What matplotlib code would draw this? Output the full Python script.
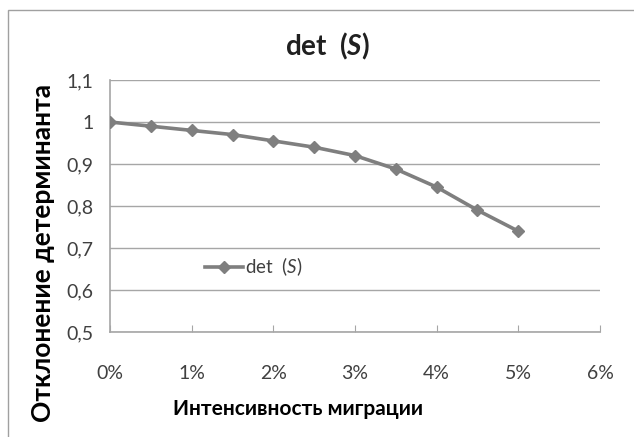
import numpy as np
import matplotlib.pyplot as plt
from matplotlib.patches import Rectangle
from matplotlib.ticker import FuncFormatter

# данные
migracija = [0, 0.5, 1, 1.5, 2, 2.5, 3, 3.5, 4, 4.5, 5]
det_s = [1.0, 0.99, 0.98, 0.97, 0.955, 0.94, 0.92, 0.888, 0.845, 0.79, 0.74]
y_ticks = [0.5, 0.6, 0.7, 0.8, 0.9, 1.0, 1.1]
x_ticks = [0, 1, 2, 3, 4, 5, 6]

plt.rcParams['font.family'] = ['Lato', 'DejaVu Sans']
plt.rcParams['mathtext.fontset'] = 'custom'
plt.rcParams['mathtext.rm'] = 'Lato'
plt.rcParams['mathtext.it'] = 'Lato:italic'
plt.rcParams['mathtext.bfit'] = 'Lato:italic:bold'

fig = plt.figure(figsize=(6.34, 4.37), dpi=100)
W, H = 634, 437
ax = fig.add_axes([110 / W, 1 - 332 / H, 490 / W, 252 / H])

# рамка диаграммы
fig.patches.append(Rectangle((8 / W, -0.05), 1.1, 1 - 10 / H + 0.05, transform=fig.transFigure,
                             fill=False, edgecolor='#a0a0a0', linewidth=1))

grey = '#7f7f7f'
ax.plot(migracija, det_s, color=grey, linewidth=2.6, marker='D', markersize=6.5,
        label='det  ($\\mathit{S}$)', zorder=3)

ax.set_xlim(0, 6)
ax.set_ylim(0.5, 1.1)
ax.set_xticks(x_ticks)
ax.set_yticks(y_ticks)
ax.xaxis.set_major_formatter(FuncFormatter(lambda v, p: f'{int(v)}%'))
ax.yaxis.set_major_formatter(FuncFormatter(lambda v, p: ('%g' % round(v, 1)).replace('.', ',')))
ax.grid(axis='y', color='#a6a6a6', linewidth=1)
ax.set_axisbelow(True)

for s in ['top', 'right']:
    ax.spines[s].set_visible(False)
for s in ['left', 'bottom']:
    ax.spines[s].set_color('#a6a6a6')
    ax.spines[s].set_linewidth(1.2)

ax.tick_params(axis='x', direction='in', length=5, color='#a6a6a6', pad=24,
               labelsize=14, labelcolor='#404040')
ax.tick_params(axis='y', length=0, pad=12, labelsize=14, labelcolor='#404040')

ttl = ax.set_title('det  ($\\mathbfit{S}$)', fontsize=20, fontweight='bold', pad=18, color='#202020')
ttl.set_x(0.443)
ax.set_xlabel('Интенсивность миграции', fontsize=15, fontweight='bold')
ax.xaxis.set_label_coords(0.384, -0.265)
ax.set_ylabel('Отклонение детерминанта', fontsize=19, fontweight='bold')
ax.yaxis.set_label_coords(-0.136, 0.315)
ax.yaxis.label.set_va('center')

ax.legend(loc='center left', bbox_to_anchor=(0.16, 0.258), frameon=False, fontsize=13.5,
          handlelength=2.0, handletextpad=0.1, labelcolor='#404040')

fig.savefig('out.png', dpi=100)
